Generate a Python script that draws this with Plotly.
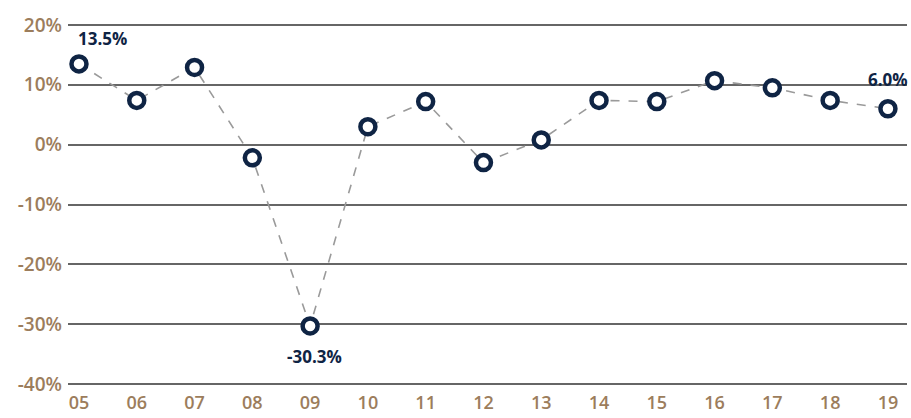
import plotly.graph_objects as go

# Annual growth rate by year
years = ["05", "06", "07", "08", "09", "10", "11", "12", "13", "14", "15", "16", "17", "18", "19"]
growth = [13.5, 7.4, 12.9, -2.2, -30.3, 3.0, 7.2, -3.0, 0.8, 7.4, 7.2, 10.7, 9.5, 7.4, 6.0]
y_ticks = [20, 10, 0, -10, -20, -30, -40]
y_tick_text = ["20%", "10%", "0%", "-10%", "-20%", "-30%", "-40%"]

navy = "#0f2444"
tan = "#9c7d5c"
grid = "#666666"

fig = go.Figure()
fig.add_trace(go.Scatter(
    x=years, y=growth, mode="lines+markers",
    line=dict(color="#9a9a9a", width=1.6, dash="dash"),
    marker=dict(size=15, color="white", line=dict(color=navy, width=4.5)),
    cliponaxis=False, showlegend=False,
))

label_font = dict(family="Open Sans", size=17, color=navy, weight=700)
# value labels on first, lowest and last points (category index positions)
for idx, dy, dx in [(0, 25, 24), (4, -31, 4), (len(years) - 1, 29, 0)]:
    fig.add_annotation(x=idx, y=growth[idx], text=f"{growth[idx]:.1f}%", showarrow=False,
                       yshift=dy, xshift=dx, font=label_font)

fig.update_layout(
    width=911, height=418,
    margin=dict(l=68, r=4, t=22, b=31),
    paper_bgcolor="white", plot_bgcolor="white",
    font=dict(family="Open Sans", size=19, color=tan),
    xaxis=dict(type="category", range=[-0.19, 14.33], showgrid=False, zeroline=False,
               showline=False, ticks="", ticklabelstandoff=3, automargin=False,
               tickfont=dict(size=18, color=tan, weight=600)),
    yaxis=dict(range=[-40.5, 20.5], tickvals=y_ticks, ticktext=y_tick_text,
               showgrid=True, gridcolor=grid, gridwidth=2, zeroline=False,
               showline=False, ticks="", ticklabelstandoff=5, automargin=False,
               tickfont=dict(size=19, color=tan, weight=600)),
)

fig.write_html("out.html")
